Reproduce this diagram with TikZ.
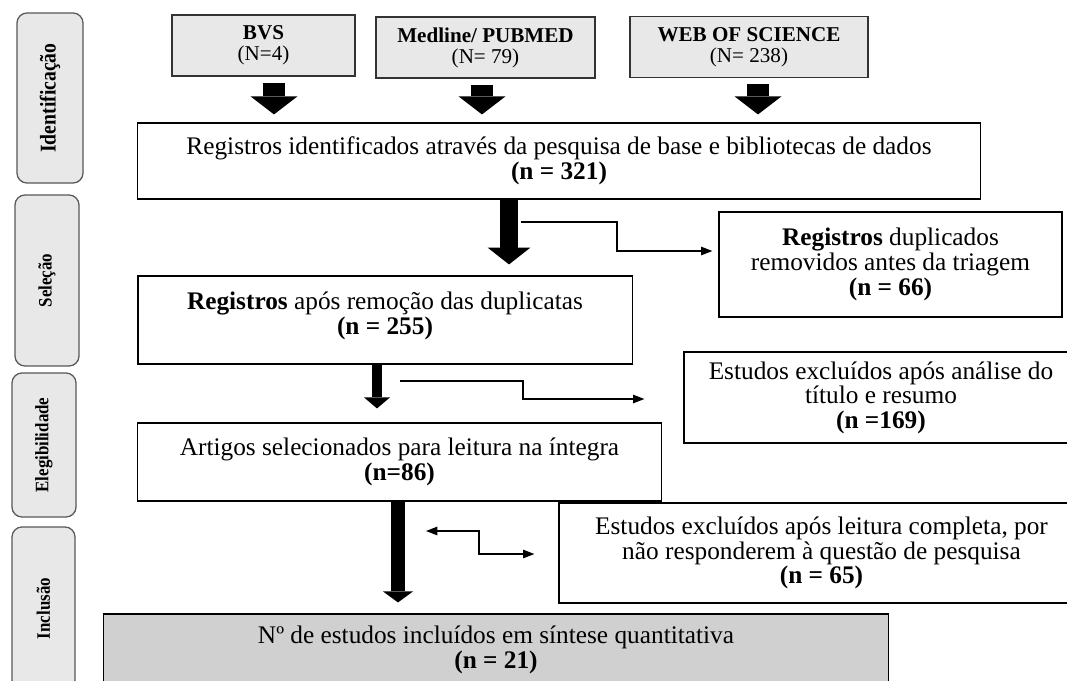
\documentclass[tikz,border=0pt]{standalone}
\usepackage{fontspec}
\setmainfont{Liberation Serif}
\usepackage{tikz}
\usetikzlibrary{arrows.meta}
\usepackage{xcolor}

\begin{document}
\begin{tikzpicture}[x=0.025cm, y=-0.025cm,
    phasenode/.style={rectangle, rounded corners=0.25cm, draw=black!65, fill=gray!18, line width=0.9pt, rotate=90, inner sep=0pt, font=\fontsize{13.5}{14}\selectfont\bfseries},
    sourcenode/.style={rectangle, draw=black!80, fill=gray!18, line width=0.9pt, align=center, inner sep=0pt, minimum height=1.53cm, font=\fontsize{15}{15}\selectfont},
    boxnode/.style={rectangle, draw=black, fill=white, line width=0.8pt, align=center, inner sep=0pt, font=\fontsize{18}{17.5}\selectfont},
    srcarrow/.style={line width=15.6pt, -{Triangle[line width=0pt, length=12.8pt, width=33.3pt]}, shorten <=0.15cm, shorten >=0.2cm},
    fatarrow/.style n args={3}{line width=#1, -{Triangle[line width=0pt, width=#2, length=#3]}},
    thinarrow/.style={line width=0.8pt, -{Triangle[length=8pt, width=6pt]}},
    thinboth/.style={line width=0.8pt, {Triangle[length=8pt, width=6pt]}-{Triangle[length=8pt, width=6pt]}}
    ]
    \useasboundingbox (0,0) rectangle (1067,680);
    \clip (0,0) rectangle (1067,680);

    \node[phasenode, minimum width=4.25cm, minimum height=1.65cm, font=\fontsize{16}{17}\selectfont\bfseries] (ident) at (50,98) {\scalebox{0.875}[1]{Identificação}};
    \node[phasenode, minimum width=4.275cm, minimum height=1.6cm] (selec) at (47,280.5) {\scalebox{0.89}[1]{Seleção}};
    \node[phasenode, minimum width=3.6cm, minimum height=1.6cm] (eleg) at (44,445) {\scalebox{0.89}[1]{Elegibilidade}};
    \node[phasenode, minimum width=4.075cm, minimum height=1.575cm] (incl) at (43.5,608.5) {\scalebox{0.89}[1]{Inclusão}};

    \node[sourcenode, minimum width=4.575cm] (bvs)    at (263.5,45.5) {\textbf{BVS}\\(N=4)};
    \node[sourcenode, minimum width=5.475cm] (pubmed) at (485.5,47.5) {\textbf{Medline/ PUBMED}\\(N= 79)};
    \node[sourcenode, minimum width=5.95cm]  (wos)    at (749,47)     {\textbf{WEB OF SCIENCE}\\(N= 238)};

    \node[boxnode, minimum width=21.05cm, minimum height=1.9cm] (found) at (559,161)
        {Registros identificados através da pesquisa de base e bibliotecas de dados\\\textbf{(n = 321)}};
    \node[boxnode, minimum width=8.575cm, minimum height=2.625cm] (dup) at (890.5,264.5)
        {\textbf{Registros} duplicados\\removidos antes da triagem\\\textbf{(n = 66)}};
    \node[boxnode, minimum width=12.35cm, minimum height=2.2cm] (unique) at (385,320)
        {\textbf{Registros} após remoção das duplicatas\\\textbf{(n = 255)}\\[-0.27cm]};
    \node[boxnode, minimum width=9.85cm, minimum height=2.275cm] (tiab) at (881,397.5)
        {Estudos excluídos após análise do\\título e resumo\\\textbf{(n =169)}};
    \node[boxnode, minimum width=13.075cm, minimum height=1.95cm] (fulltext) at (399.5,462)
        {Artigos selecionados para leitura na íntegra\\\textbf{(n=86)}};
    \node[boxnode, minimum width=13.125cm, minimum height=2.5cm] (fullexcl) at (821.5,553)
        {Estudos excluídos após leitura completa, por\\não responderem à questão de pesquisa\\\textbf{(n = 65)}};
    \node[boxnode, fill=gray!37, minimum width=19.6cm, minimum height=1.8cm] (included) at (496,650)
        {Nº de estudos incluídos em síntese quantitativa\\\textbf{(n = 21)}};

    \coordinate (abvs) at (274,0);
    \coordinate (apub) at (482,0);
    \coordinate (awos) at (758,0);
    \coordinate (afound) at (509,0);
    \coordinate (aunique) at (377,0);
    \coordinate (afull) at (398,0);

    \draw[srcarrow] (bvs.south -| abvs) -- (found.north -| abvs);
    \draw[srcarrow] (pubmed.south -| apub) -- (found.north -| apub);
    \draw[srcarrow] (wos.south -| awos) -- (found.north -| awos);

    \draw[fatarrow={13.5pt}{30.5pt}{12pt}, shorten >=0.275cm] (found.south -| afound) -- (unique.north -| afound);
    \draw[fatarrow={7.8pt}{18.4pt}{7.8pt}, shorten >=0.35cm] (unique.south -| aunique) -- (fulltext.north -| aunique);
    \draw[fatarrow={10pt}{21.3pt}{7.8pt}, shorten >=0.275cm] (fulltext.south -| afull) -- (included.north -| afull);

    \coordinate (dupstart) at (521,222);
    \coordinate (dupbend) at (617,251);
    \draw[thinarrow, shorten >=0.15cm] (dupstart) -| (dupbend) -- (dupbend -| dup.west);

    \coordinate (tiabstart) at (400,381);
    \coordinate (tiabbend) at (523,399);
    \draw[thinarrow, shorten >=0.975cm] (tiabstart) -| (tiabbend) -- (tiabbend -| tiab.west);

    \coordinate (fullstart) at (426,531);
    \coordinate (fullbend) at (479,554);
    \draw[thinboth, shorten >=0.6cm] (fullstart) -| (fullbend) -- (fullbend -| fullexcl.west);
\end{tikzpicture}
\end{document}
